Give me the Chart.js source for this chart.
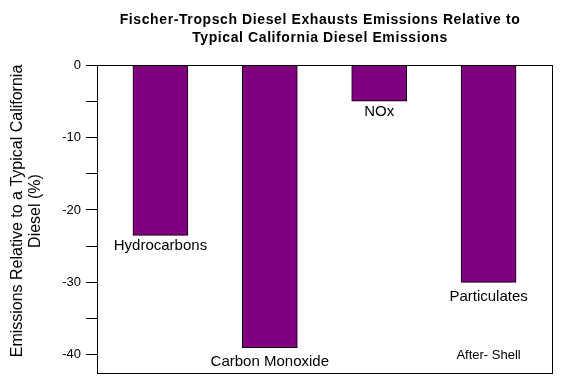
<!DOCTYPE html>
<html>
<head>
<meta charset="utf-8">
<script src="https://cdn.jsdelivr.net/npm/chart.js@4/dist/chart.umd.min.js"></script>
<style>
  html, body { margin: 0; padding: 0; background: #fff; }
  #wrap { width: 562px; height: 383px; }
</style>
</head>
<body>
<div id="wrap"><canvas id="chart" width="562" height="383"></canvas></div>
<script>
// chart data
const categories = ["Hydrocarbons", "Carbon Monoxide", "NOx", "Particulates"];
const values = [-23.5, -39, -5, -30];
const titleLines = ["Fischer-Tropsch Diesel Exhausts Emissions Relative to", "Typical California Diesel Emissions"];
const yTitle = ["Emissions Relative to a Typical California", "Diesel (%)"];
const sourceNote = "After- Shell";

const FONT = "'Liberation Sans', Arial, sans-serif";
// gap in px between a bar's end and its label
const labelGap = [3, 7, 3, 7];

// draws the frame, the titles and the bar labels
const annotate = {
    id: "annotate",
    afterDatasetsDraw(chart) {
        const { ctx, chartArea: a, scales } = chart;
        ctx.save();
        ctx.strokeStyle = "#000";
        ctx.lineWidth = 1;
        ctx.strokeRect(Math.round(a.left) + 0.5, Math.round(a.top) + 0.5,
            Math.round(a.right - a.left), Math.round(a.bottom - a.top));

        ctx.fillStyle = "#000";
        ctx.textAlign = "center";
        ctx.textBaseline = "middle";
        ctx.font = "bold 14px " + FONT;
        ctx.letterSpacing = "0.6px";
        ctx.fillText(titleLines[0], 320, 20.5);
        ctx.fillText(titleLines[1], 320, 38.5);
        ctx.letterSpacing = "0px";

        // y axis title
        ctx.save();
        ctx.font = "16px " + FONT;
        ctx.translate(0, 211);
        ctx.rotate(-Math.PI / 2);
        ctx.fillText(yTitle[0], 0, 18);
        ctx.fillText(yTitle[1], 0, 36);
        ctx.restore();

        ctx.font = "15px " + FONT;
        ctx.textBaseline = "top";
        values.forEach((v, i) => {
            const x = scales.x.getPixelForValue(i);
            const y = scales.y.getPixelForValue(v);
            ctx.fillText(categories[i], x, y + labelGap[i]);
        });

        ctx.font = "13px " + FONT;
        ctx.textBaseline = "middle";
        ctx.fillText(sourceNote, scales.x.getPixelForValue(3), scales.y.getPixelForValue(-40.1));
        ctx.restore();
    }
};

new Chart(document.getElementById("chart"), {
    type: "bar",
    data: {
        datasets: [{
            data: values.map((v, i) => ({ x: i, y: v })),
            backgroundColor: "#800080",
            borderColor: "#000",
            borderWidth: 1,
            borderSkipped: false,
            barThickness: 55
        }]
    },
    options: {
        responsive: false,
        animation: false,
        layout: { padding: { top: 65, right: 10, bottom: 10, left: 0 } },
        plugins: {
            legend: { display: false },
            title: { display: false },
            tooltip: { enabled: false }
        },
        scales: {
            x: {
                type: "linear",
                display: false,
                min: -0.58,
                max: 3.58,
                offset: false
            },
            y: {
                min: -42.5,
                max: 0,
                afterFit(scale) {
                    scale.width = 97;
                    scale.paddingTop = 0;
                    scale.paddingBottom = 0;
                },
                border: { display: false },
                grid: {
                    drawOnChartArea: false,
                    tickLength: 11,
                    color: "#000"
                },
                ticks: {
                    stepSize: 5,
                    includeBounds: false,
                    color: "#000",
                    padding: 5,
                    font: { family: FONT, size: 13 },
                    callback: v => (v % 10 === 0 ? String(v) : "")
                },
                title: { display: false }
            }
        }
    },
    plugins: [annotate]
});
</script>
</body>
</html>
